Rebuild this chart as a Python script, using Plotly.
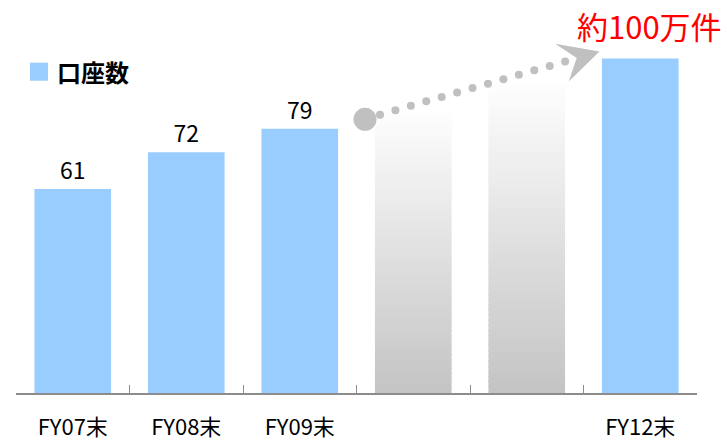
import plotly.graph_objects as go
import numpy as np

# Fiscal-year-end account counts (万口座)
CATEGORIES = ["FY07末", "FY08末", "FY09末", "FY10末", "FY11末", "FY12末"]
TICK_TEXT = ["FY07末", "FY08末", "FY09末", "", "", "FY12末"]

ACTUAL_CATS = ["FY07末", "FY08末", "FY09末", "FY12末"]
ACTUAL_VALUES = [61, 72, 79, 100]
LABELLED = [True, True, True, False]

# Intermediate years shown as faded, unlabelled bars
FORECAST_CATS = ["FY10末", "FY11末"]
FORECAST_VALUES = [84, 92]

SERIES_NAME = "口座数"
HEADLINE = "約100万件"

# Decorative growth arrow (x on the numeric overlay axis, y in data units)
ARROW_START = (2.575, 81.8)
DOTS_FROM = (2.707, 83.2)
DOTS_TO = (4.338, 99.1)
N_DOTS = 13
ARROW_HEAD_X = [4.25, 4.641, 4.37, 4.44, 4.25]
ARROW_HEAD_Y = [104.4, 102.1, 93.1, 100.1, 104.4]

FONT = "Noto Sans CJK JP"
BLUE = "#99ccff"
GREY = "#c0c0c0"
AXIS_GREY = "#8c8c8c"

fig = go.Figure()

# Faded bars: stacked thin slices shading from grey at the base to white at the top
n_slices = 60
bottom_rgb = np.array([196, 196, 196])
top_rgb = np.array([253, 253, 253])
xs, bases, heights, colors = [], [], [], []
for cat, val in zip(FORECAST_CATS, FORECAST_VALUES):
    step = val / n_slices
    for i in range(n_slices):
        t = i / (n_slices - 1)
        r, g, b = (bottom_rgb + (top_rgb - bottom_rgb) * t).round().astype(int)
        xs.append(cat)
        bases.append(i * step)
        heights.append(step * (1.4 if i < n_slices - 1 else 1.0))
        colors.append(f"rgb({r},{g},{b})")

fig.add_trace(go.Bar(
    x=xs, y=heights, base=bases,
    marker=dict(color=colors, line=dict(width=0)),
    hoverinfo="skip", showlegend=False,
))

# Actual account counts
fig.add_trace(go.Bar(
    x=ACTUAL_CATS, y=ACTUAL_VALUES,
    marker=dict(color=BLUE, line=dict(width=0)),
    text=[str(v) if show else "" for v, show in zip(ACTUAL_VALUES, LABELLED)],
    textposition="outside",
    textfont=dict(family=FONT, size=23, color="#000000"),
    cliponaxis=False,
    name=SERIES_NAME, showlegend=False,
))

# Dotted growth arrow
dot_x = np.linspace(DOTS_FROM[0], DOTS_TO[0], N_DOTS)
dot_y = np.linspace(DOTS_FROM[1], DOTS_TO[1], N_DOTS)
fig.add_trace(go.Scatter(
    x=dot_x, y=dot_y, xaxis="x2", mode="markers",
    marker=dict(size=8, color=GREY, line=dict(width=0)),
    hoverinfo="skip", showlegend=False, cliponaxis=False,
))
fig.add_trace(go.Scatter(
    x=[ARROW_START[0]], y=[ARROW_START[1]], xaxis="x2", mode="markers",
    marker=dict(size=23, color=GREY, line=dict(width=0)),
    hoverinfo="skip", showlegend=False, cliponaxis=False,
))
fig.add_trace(go.Scatter(
    x=ARROW_HEAD_X, y=ARROW_HEAD_Y, xaxis="x2", mode="lines",
    fill="toself", fillcolor=GREY, line=dict(width=0, color=GREY),
    hoverinfo="skip", showlegend=False,
))

fig.update_layout(
    width=727, height=442,
    margin=dict(l=16, r=30, t=25, b=49, autoexpand=False),
    paper_bgcolor="white", plot_bgcolor="white",
    barmode="overlay", bargap=0.325,
    showlegend=False,
    xaxis=dict(
        type="category", categoryorder="array", categoryarray=CATEGORIES,
        range=[-0.5, 5.5], automargin=False,
        tickmode="array", tickvals=CATEGORIES, ticktext=TICK_TEXT,
        tickson="boundaries", ticks="inside", ticklen=8, tickwidth=1,
        tickcolor=AXIS_GREY,
        showline=True, linecolor=AXIS_GREY, linewidth=2,
        showgrid=False, zeroline=False,
        tickfont=dict(family=FONT, size=22, color="#000000"),
        ticklabelstandoff=14,
    ),
    xaxis2=dict(overlaying="x", range=[-0.5, 5.5], visible=False, anchor="y",
                automargin=False),
    yaxis=dict(range=[0, 110], visible=False, showgrid=False, zeroline=False,
               automargin=False),
    shapes=[
        # legend swatch
        dict(type="rect", xref="paper", yref="paper",
             x0=(30 - 16) / 681, x1=(48 - 16) / 681,
             y0=(393 - 80.7) / 368, y1=(393 - 62.7) / 368,
             fillcolor=BLUE, line=dict(width=0)),
    ],
    annotations=[
        dict(text=SERIES_NAME, xref="paper", yref="paper",
             x=(55 - 16) / 681, y=(393 - 71.7) / 368,
             xanchor="left", yanchor="middle", showarrow=False,
             font=dict(family=FONT, size=24, color="#000000", weight="bold")),
        dict(text=HEADLINE, xref="x", yref="y",
             x="FY12末", y=ACTUAL_VALUES[-1], xshift=9, yshift=32.5,
             xanchor="center", yanchor="middle", showarrow=False,
             font=dict(family=FONT, size=31, color="#ff0000")),
    ],
)

fig.write_html("out.html")
